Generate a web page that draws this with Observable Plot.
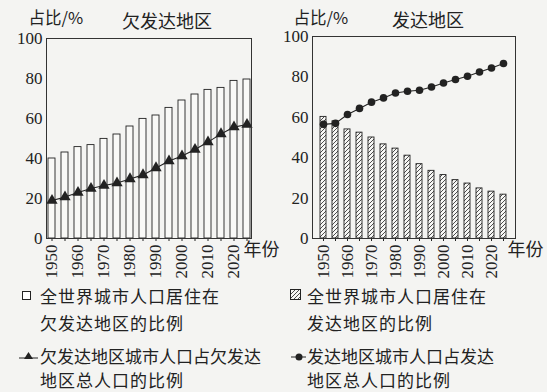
<!DOCTYPE html>
<html><head><meta charset="utf-8">
<script src="https://cdn.jsdelivr.net/npm/d3@7"></script>
<script src="https://cdn.jsdelivr.net/npm/@observablehq/plot@0.6"></script>
<style>
body{margin:0;background:#f4f4f2;}
#wrap{position:relative;width:547px;height:392px;overflow:hidden;font-family:"Noto Sans CJK SC",sans-serif;color:#222;background:#f4f4f2}
#left,#right{position:absolute;top:0}
#left{left:0}
#right{left:273px}
.leg{position:absolute;font-size:17px;line-height:27px;letter-spacing:1px;white-space:nowrap}
.leg2{line-height:23.5px}
.sym{position:absolute}
</style>
</head><body>
<svg width="0" height="0" style="position:absolute">
  <defs>
    <pattern id="hatch" patternUnits="userSpaceOnUse" width="4" height="4">
      <rect width="4" height="4" fill="#f7f7f5"></rect>
      <path d="M-1,1 l2,-2 M0,4 l4,-4 M3,5 l2,-2" stroke="#222" stroke-width="0.8"></path>
    </pattern>
  </defs>
</svg>
<div id="wrap">
  <div id="left"></div>
  <div id="right"></div>

  <svg class="sym" style="left:21px;top:290px" width="12" height="12"><rect x="1.5" y="1.5" width="8" height="8" fill="#fff" stroke="#222" stroke-width="1"></rect></svg>
  <div class="leg" style="left:40px;top:282px">全世界城市人口居住在<br>欠发达地区的比例</div>
  <svg class="sym" style="left:18px;top:350px" width="22" height="12"><line x1="1" y1="8" x2="20" y2="8" stroke="#222" stroke-width="1"></line><path d="M10.5,2 L15,9 L6,9 Z" fill="#222"></path></svg>
  <div class="leg leg2" style="left:40px;top:344px;"><span style="letter-spacing:0">欠发达地区城市人口占欠发达</span><br>地区总人口的比例</div>

  <svg class="sym" style="left:289px;top:288px" width="14" height="14"><rect x="1.5" y="1.5" width="10" height="10" fill="url(#hatch)" stroke="#222" stroke-width="1"></rect></svg>
  <div class="leg" style="left:307px;top:282px">全世界城市人口居住在<br>发达地区的比例</div>
  <svg class="sym" style="left:290px;top:350px" width="18" height="12"><line x1="1" y1="7" x2="16" y2="7" stroke="#222" stroke-width="1"></line><circle cx="9" cy="7" r="3.5" fill="#222"></circle></svg>
  <div class="leg leg2" style="left:307px;top:344px;"><span style="letter-spacing:0">发达地区城市人口占发达</span><br>地区总人口的比例</div>
</div>
<script>
const years = [1950,1955,1960,1965,1970,1975,1980,1985,1990,1995,2000,2005,2010,2015,2020,2025];
const xTickYears = [1950,1960,1970,1980,1990,2000,2010,2020];
const yTicks = [0,20,40,60,80,100];
// 欠发达地区
const lessDevBars = [40,43,45.7,46.7,49.8,52,56,59.8,61.5,65.3,69,72,74.3,75.3,78.8,79.5];
const lessDevLine = [19,20.7,23,25,26.5,27.7,29.8,31.8,35.3,38.7,41.2,44.5,48.2,52.3,55.7,57];
// 发达地区
const devBars = [60.2,58,54,52.4,50,46.6,44.5,41,36.8,33.5,31.4,28.9,27.2,24.8,23.2,21.7];
const devLine = [56.5,57,61.4,64.4,67.5,69.6,72,72.9,73.4,75,77,78.7,80.3,82.4,84.4,86.6];

function panel(o) {
  const data = years.map((year, i) => ({year, bar: o.bars[i], line: o.line[i]}));
  const cjk = "Noto Sans CJK SC";
  return Plot.plot({
    width: o.width, height: 290,
    marginLeft: o.ml, marginRight: o.mr, marginTop: o.mt, marginBottom: 52,
    style: {background: "transparent", overflow: "visible", fontFamily: "Liberation Serif", color: "#222"},
    x: {type: "band", domain: years, paddingInner: 0.48, paddingOuter: 0.12},
    y: {domain: [0, 100]},
    marks: [
      Plot.axisY({ticks: yTicks, tickSize: 0, tickPadding: 4, label: null, fontSize: 17}),
      Plot.axisX({ticks: years, tickSize: 3, tickRotate: -90, tickPadding: 3, label: null, fontSize: 17,
        tickFormat: d => xTickYears.includes(d) ? String(d) : ""}),
      Plot.barY(data, {x: "year", y: "bar", fill: o.fill, stroke: "#222", strokeWidth: 0.9}),
      Plot.line(data, {x: "year", y: "line", stroke: "#222", strokeWidth: 1.1}),
      Plot.dot(data, {x: "year", y: "line", symbol: o.symbol, r: o.r, fill: "#222", stroke: "none"}),
      Plot.frame({stroke: "#333", strokeWidth: 1}),
      Plot.text(["占比/%"], {frameAnchor: "top-left", lineAnchor: "middle", textAnchor: "start", dx: o.unitDx, dy: 18 - o.mt, fontSize: 16.5, fontFamily: cjk, fill: "#222"}),
      Plot.text([o.title], {frameAnchor: "top", lineAnchor: "middle", dx: o.titleDx, dy: o.titleY - o.mt, fontSize: 18, fontFamily: cjk, fill: "#222"}),
      Plot.text(["年份"], {frameAnchor: "bottom-right", lineAnchor: "middle", textAnchor: "start", dx: -8, dy: 12, fontSize: 18, fontFamily: cjk, fill: "#222"})
    ]
  });
}

document.getElementById("left").append(panel({
  bars: lessDevBars, line: lessDevLine, fill: "#f9f9f7", symbol: "triangle", r: 4.2,
  title: "欠发达地区", width: 273, ml: 46, mr: 22, mt: 38, unitDx: -18, titleDx: 18, titleY: 22
}));
document.getElementById("right").append(panel({
  bars: devBars, line: devLine, fill: "url(#hatch)", symbol: "circle", r: 3.8,
  title: "发达地区", width: 274, ml: 39, mr: 32, mt: 36, unitDx: -19, titleDx: 14, titleY: 21
}));
</script>
</body></html>
